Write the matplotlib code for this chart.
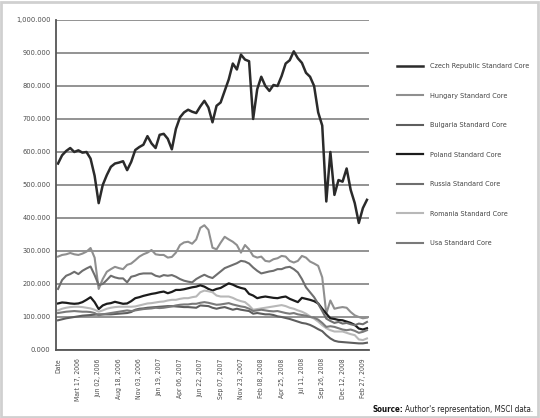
import matplotlib.pyplot as plt
import numpy as np
from matplotlib.patches import Rectangle

# Tick labels along the bottom (every 11 weeks)
tanggal = ["Date", "Mart 17, 2006", "Jun 02, 2006", "Aug 18, 2006", "Nov 03, 2006",
           "Jan 19, 2007", "Apr 06, 2007", "Jun 22, 2007", "Sep 07, 2007", "Nov 23, 2007",
           "Feb 08, 2008", "Apr 25, 2008", "Jul 11, 2008", "Sep 26, 2008", "Dec 12, 2008",
           "Feb 27, 2009"]

# Index values (5 samples between two tick labels)
czech = [565, 590, 603, 612, 600, 605, 598, 600, 580, 528, 445, 500, 530, 555, 565, 568,
         572, 545, 570, 606, 615, 622, 648, 626, 612, 652, 655, 640, 608, 670, 705, 720,
         728, 722, 718, 738, 755, 735, 690, 740, 750, 785, 820, 868, 850, 895, 880, 875,
         700, 790, 828, 800, 785, 803, 800, 830, 868, 878, 905, 884, 870, 840, 828, 800,
         720, 680, 450, 600, 470, 515, 510, 550, 485, 445, 385, 430, 455]
hungary = [283, 288, 290, 294, 290, 288, 292, 298, 309, 280, 185, 215, 237, 245, 252, 248,
           245, 258, 262, 272, 283, 290, 295, 303, 290, 288, 288, 280, 282, 295, 318, 326,
           328, 322, 335, 370, 378, 364, 310, 305, 325, 343, 335, 328, 318, 295, 318, 305,
           285, 280, 283, 270, 268, 275, 278, 285, 283, 270, 265, 270, 285, 280, 268, 262,
           255, 220, 110, 150, 125, 128, 130, 128, 115, 105, 100, 96, 98]
russia = [185, 212, 225, 230, 237, 230, 240, 247, 253, 227, 197, 200, 212, 225, 220, 217,
          217, 205, 222, 225, 230, 232, 232, 232, 225, 222, 227, 225, 227, 222, 215, 210,
          207, 205, 215, 222, 228, 222, 218, 228, 238, 248, 253, 258, 263, 270, 268, 262,
          250, 240, 232, 235, 238, 240, 245, 245, 250, 252, 245, 235, 215, 190, 175, 160,
          140, 118, 95, 88, 82, 85, 80, 82, 78, 75, 80, 78, 85]
poland = [141, 144, 143, 141, 140, 141, 145, 152, 160, 145, 124, 135, 140, 142, 146, 143,
          140, 141, 148, 157, 160, 164, 167, 170, 172, 175, 177, 172, 176, 182, 182, 184,
          187, 190, 192, 196, 192, 185, 180, 185, 188, 195, 202, 198, 192, 188, 185, 170,
          165, 157, 160, 162, 160, 158, 157, 160, 162, 155, 150, 145, 158, 155, 152, 148,
          141, 125, 110, 96, 94, 91, 90, 86, 82, 76, 65, 62, 66]
romania = [120, 125, 128, 130, 131, 131, 130, 128, 126, 122, 116, 120, 125, 128, 130, 131,
           131, 131, 131, 132, 135, 138, 141, 142, 144, 146, 147, 150, 152, 152, 155, 157,
           157, 160, 162, 175, 180, 178, 175, 165, 162, 162, 162, 158, 152, 148, 145, 135,
           122, 124, 126, 128, 130, 132, 134, 136, 133, 128, 125, 120, 116, 110, 102, 95,
           86, 75, 66, 60, 56, 56, 56, 52, 48, 45, 32, 30, 35]
bulgaria = [90, 93, 96, 98, 100, 102, 104, 105, 106, 107, 108, 108, 108, 108, 109, 110,
            111, 112, 115, 122, 125, 126, 128, 129, 130, 131, 132, 133, 133, 132, 131, 130,
            130, 129, 128, 135, 134, 133, 128, 125, 128, 130, 126, 122, 125, 122, 120, 118,
            110, 112, 110, 108, 108, 106, 102, 100, 97, 94, 90, 86, 82, 80, 76, 70,
            63, 57, 45, 35, 28, 25, 24, 23, 22, 21, 20, 20, 22]
usa = [112, 114, 116, 117, 118, 117, 116, 116, 115, 112, 105, 108, 110, 112, 114, 116,
       118, 120, 118, 120, 122, 124, 125, 126, 128, 127, 128, 130, 132, 135, 137, 138,
       138, 140, 140, 143, 145, 143, 140, 137, 138, 140, 142, 138, 135, 132, 130, 125,
       118, 120, 122, 120, 118, 117, 118, 115, 112, 110, 112, 108, 106, 104, 100, 98,
       92, 82, 70, 72, 70, 66, 62, 60, 62, 58, 52, 55, 60]

seri = [
    ("Czech Republic Standard Core", czech, "#2b2b2b", 1.8),
    ("Hungary Standard Core", hungary, "#8f8f8f", 1.5),
    ("Bulgaria Standard Core", bulgaria, "#5e5e5e", 1.5),
    ("Poland Standard Core", poland, "#1c1c1c", 1.6),
    ("Russia Standard Core", russia, "#6e6e6e", 1.5),
    ("Romania Standard Core", romania, "#b8b8b8", 1.5),
    ("Usa Standard Core", usa, "#7a7a7a", 1.5),
]

plt.rcParams['font.family'] = ['DejaVu Sans']
plt.rcParams['font.stretch'] = 'condensed'

fig = plt.figure(figsize=(5.4, 4.18), dpi=100)
fig.patches.append(Rectangle((0.002, 0.003), 0.995, 0.993, transform=fig.transFigure,
                             fill=False, edgecolor="#d0d0d0", linewidth=2))
ax = fig.add_axes([0.1037, 0.1627, 0.5796, 0.7895])

x = np.arange(len(czech))
for nama, nilai, warna, lebar in seri:
    ax.plot(x, nilai, color=warna, linewidth=lebar, label=nama)

ax.set_ylim(0, 1000)
ax.set_xlim(-0.5, 76.5)
ax.set_yticks(np.arange(0, 1001, 100))
ax.set_yticklabels([f"{v:,}.000" for v in range(0, 1001, 100)])
ax.set_xticks(np.arange(0, 76, 5))
ax.set_xticklabels(tanggal, rotation=90)
ax.tick_params(axis="y", length=0, labelsize=5.3, labelcolor="#4a4a4a", pad=4)
ax.tick_params(axis="x", length=0, labelsize=4.9, labelcolor="#4a4a4a", pad=6)

ax.yaxis.grid(True, color="#8a8a8a", linewidth=1.3)
ax.set_axisbelow(True)
for s in ["top", "right"]:
    ax.spines[s].set_visible(False)
ax.spines["left"].set_color("#555555")
ax.spines["bottom"].set_color("#555555")
ax.spines["left"].set_linewidth(1.3)
ax.spines["bottom"].set_linewidth(1.3)

ax.legend(loc="upper left", bbox_to_anchor=(0.729, 0.856), bbox_transform=fig.transFigure,
          frameon=False, fontsize=5.2, labelcolor="#444444", handlelength=3.7,
          handletextpad=1.0, labelspacing=3.25, borderaxespad=0)

# source line: bold word then the rest right after it
sumber = fig.text(0.689, 0.014, "Source:", fontsize=5.8, fontweight="bold", color="#111111")
fig.canvas.draw()
bb = sumber.get_window_extent().transformed(fig.transFigure.inverted())
fig.text(bb.x1 + 0.004, 0.014, "Author's representation, MSCI data.", fontsize=5.8,
         color="#222222")

plt.savefig("out.png", dpi=100)
